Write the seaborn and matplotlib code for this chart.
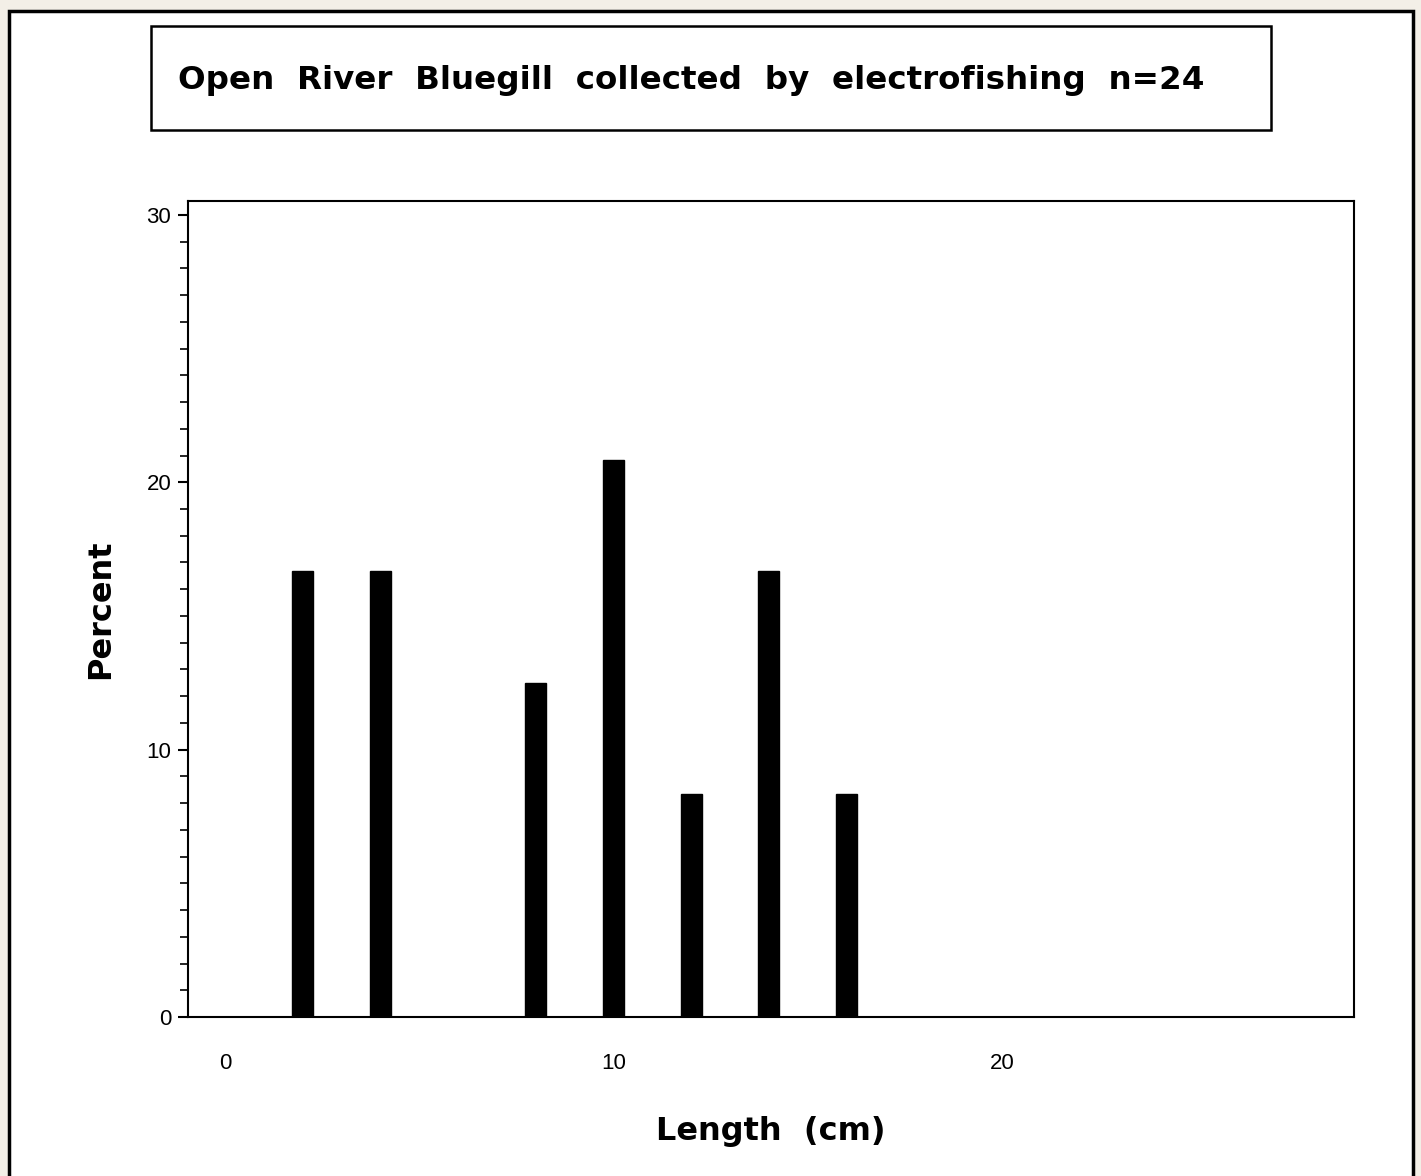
import pandas as pd
import matplotlib.pyplot as plt
import seaborn as sns
from matplotlib.patches import Rectangle
from matplotlib.ticker import MultipleLocator

# Length-frequency data (percent of n=24 fish)
lengths = [2, 4, 8, 10, 12, 14, 16]
percent = [16.67, 16.67, 12.5, 20.83, 8.33, 16.67, 8.33]
title_text = 'Open  River  Bluegill  collected  by  electrofishing  n=24'

df = pd.DataFrame({'Length': lengths, 'Percent': percent})

sns.set_style('white')
plt.rcParams['font.family'] = ['Liberation Sans', 'DejaVu Sans']
plt.rcParams['text.color'] = 'black'
plt.rcParams['xtick.color'] = 'black'
plt.rcParams['ytick.color'] = 'black'
plt.rcParams['axes.labelcolor'] = 'black'

W, H = 1421, 1176
fig = plt.figure(figsize=(W / 100, H / 100), dpi=100)
fig.patch.set_facecolor('#f3efe7')

# White panel with black frame
fig.patches.append(Rectangle((9 / W, -0.05), 1404 / W, 1.05 - 11 / H,
                             transform=fig.transFigure, facecolor='white',
                             edgecolor='black', linewidth=2.5, zorder=-2))

# Title box
fig.patches.append(Rectangle((151 / W, 1 - 130 / H), 1120 / W, 104 / H,
                             transform=fig.transFigure, facecolor='white',
                             edgecolor='black', linewidth=1.8, zorder=-1))
fig.text(178 / W, 1 - 80 / H, title_text, ha='left', va='center',
         fontsize=23.4, fontweight='bold', family='DejaVu Sans')

ax = fig.add_axes([188 / W, 1 - 1017 / H, 1166 / W, 816 / H])
ax.set_zorder(3)
sns.barplot(data=df, x='Length', y='Percent', native_scale=True, width=0.27,
            color='black', edgecolor='black', errorbar=None, ax=ax)

ax.set_xlim(-0.95, 29.06)
ax.set_ylim(0, 30.52)
ax.set_xticks([0, 10, 20])
ax.set_yticks([0, 10, 20, 30])
ax.yaxis.set_minor_locator(MultipleLocator(1))
ax.tick_params(axis='x', length=0, pad=26, labelsize=16)
ax.tick_params(axis='y', which='major', direction='out', length=7, width=1.5,
               pad=5, labelsize=16, left=True)
ax.tick_params(axis='y', which='minor', direction='out', length=6, width=1.2,
               left=True)

for s in ax.spines.values():
    s.set_color('black')
    s.set_linewidth(1.5)

ax.set_xlabel('Length  (cm)', fontsize=23, fontweight='bold', labelpad=30,
              family='DejaVu Sans')
ax.set_ylabel('Percent', fontsize=23, fontweight='bold', labelpad=22,
              family='DejaVu Sans')

plt.savefig('out.png', dpi=100, facecolor=fig.get_facecolor())
